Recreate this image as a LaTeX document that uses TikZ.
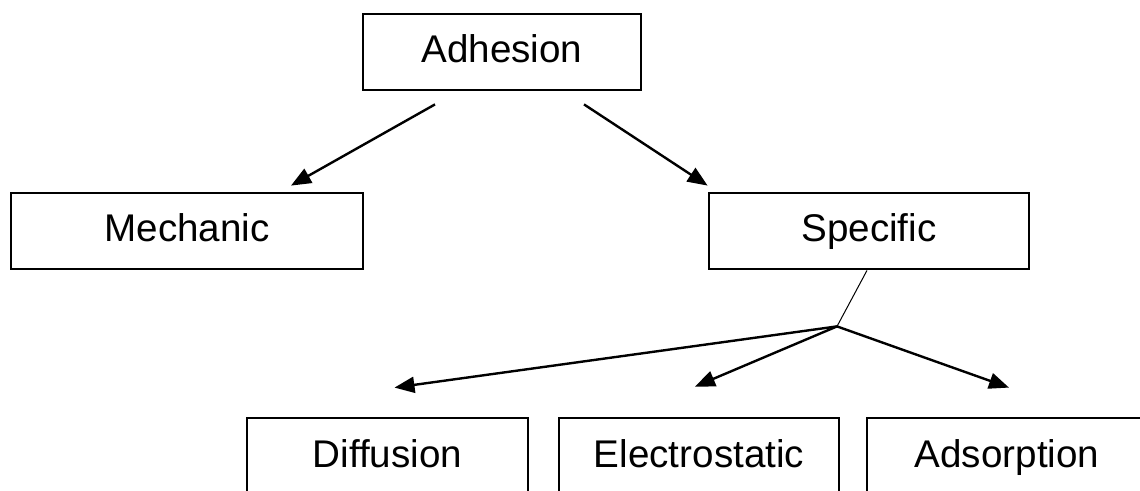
\documentclass[tikz,border=0pt]{standalone}
\usepackage{fontspec}
\setmainfont{Liberation Sans}
\usetikzlibrary{calc}
\usetikzlibrary{arrows.meta}

\tikzset{
  box/.style={draw=black, line width=1.4pt, minimum height=38pt, inner sep=0pt,
    text height=14pt, text depth=3pt, font=\fontsize{19.3}{23}\selectfont},
  link/.style={black, line width=1.2pt, -{Triangle[length=10pt, width=8pt]}}
}

\begin{document}
\begin{tikzpicture}[x=0.5pt, y=-0.5pt]
\clip (0,0) rectangle (1140,491);
\useasboundingbox (0,0) rectangle (1140,491);

\node[box, minimum width=139pt] (adh) at (502,52) {Adhesion};
\node[box, minimum width=176pt] (mech) at (187,231) {Mechanic};
\node[box, minimum width=160pt] (spec) at (869,231) {Specific};

\node[box, minimum width=140.5pt] (diff) at (387.5,456) {Diffusion};
\node[box, minimum width=140pt] (elec) at (699,456) {Electrostatic};
\node[box, minimum width=140pt] (ads) at (1007,456) {Adsorption};

\draw[link] ($ (adh.south)+(-67,13) $) -- ($ (mech.north)+(104,-6) $);
\draw[link] ($ (adh.south)+(82,13) $) -- ($ (spec.north west)+(0,-6) $);

\coordinate (fork) at ($ (spec.south)+(-32,56) $);
\draw[black, line width=0.5pt] ($ (spec.south)+(-2,0) $) -- (fork);

\draw[link] (fork) -- ($ (diff.north)+(7,-29) $);
\draw[link] (fork) -- ($ (elec.north)+(-4,-30) $);
\draw[link] (fork) -- ($ (ads.north)+(2,-29) $);

\end{tikzpicture}
\end{document}
